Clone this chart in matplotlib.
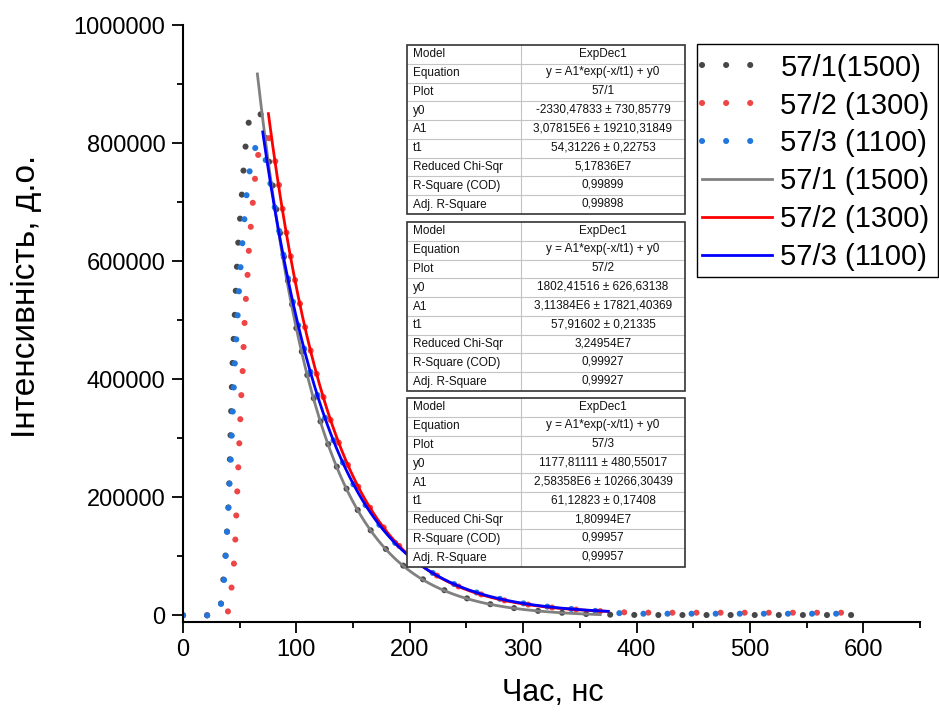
import matplotlib
matplotlib.use("Agg")
import matplotlib.pyplot as plt
import numpy as np
from matplotlib.ticker import MultipleLocator, StrMethodFormatter

plt.rcParams['font.family'] = ['Liberation Sans', 'DejaVu Sans']

# ---------------- data ----------------
labels_data = ['57/1(1500)', '57/2 (1300)', '57/3 (1100)']
labels_fit = ['57/1 (1500)', '57/2 (1300)', '57/3 (1100)']

x1 = [0, 32, 34.1, 37.9, 40.3, 41.5, 42.6, 43.9, 45.0, 45.9, 46.8, 47.9, 49.1, 50.9, 52.4, 53.8,
      55.9, 59.1, 64, 68, 73.2, 76.2, 79.7, 82.7, 86.2, 90, 100, 110, 120, 130, 140, 150,
      160, 170, 180, 190, 200, 220, 240, 260, 280, 300, 320, 340, 360, 380, 400, 420,
      440, 460, 480, 500, 520, 540, 560, 580, 590]
y1 = [0, 0, 29000, 111000, 192000, 275000, 358000, 440000, 481000, 522000, 563000, 604000, 645000, 686000, 727000, 768000,
      809000, 850000, 858000, 853000, 805000, 765000, 722000, 683000, 640000, 595000, 486000, 404000, 336000, 279000, 231000, 192000,
      159000, 132000, 110000, 91000, 75000, 51000, 35000, 23000, 15500, 10000, 6200, 3600, 1800, 900, 600, 500,
      500, 500, 500, 500, 500, 500, 500, 500, 500]

x2 = [0, 39, 39.7, 42.9, 45.0, 46.2, 47.0, 47.9, 48.8, 49.7, 50.6, 51.5, 52.7, 53.5, 54.4, 55.6,
      57.1, 58.2, 60.0, 61.8, 63.8, 66.8, 71, 75, 78, 81.2, 85, 90, 100, 110, 120, 130,
      140, 150, 160, 170, 180, 190, 200, 220, 240, 260, 280, 300, 320, 340, 360, 380,
      400, 420, 440, 460, 480, 500, 520, 540, 560, 580, 590]
y2 = [0, 0, 7300, 48000, 89000, 130000, 171000, 212000, 253000, 294000, 335000, 376000, 417500, 459000, 500500, 541000,
      582000, 623000, 664000, 705000, 746000, 787000, 806000, 812000, 800000, 772000, 725000, 662000, 556000, 468000, 394000, 332000,
      279000, 235000, 198000, 167000, 141000, 119000, 100000, 71500, 51000, 37000, 26500, 19300, 14200, 10600, 8000, 5500,
      4600, 4400, 4400, 4400, 4400, 4400, 4400, 4400, 4400, 4400, 4400]

x3 = [0, 32.3, 34.1, 36.8, 37.9, 39.1, 40.3, 41.2, 42.4, 43.2, 44.1, 45.0, 45.9, 47.4, 48.5, 49.7,
      51.2, 52.9, 54.7, 56.7, 59.7, 63, 66.5, 70, 74.4, 78.3, 83.2, 87.1, 90, 100, 110, 120,
      130, 140, 150, 160, 170, 180, 190, 200, 220, 240, 260, 280, 300, 320, 340, 360,
      380, 400, 420, 440, 460, 480, 500, 520, 540, 560, 580, 590]
y3 = [0, 0, 27600, 68300, 109500, 150000, 191500, 232000, 273000, 314000, 355000, 396000, 437000, 479000, 520000, 561500,
      602000, 643000, 684000, 725000, 765000, 790000, 800000, 790000, 762000, 718000, 668000, 628000, 594000, 504000, 428000, 364000,
      309000, 263000, 223000, 190000, 161000, 137000, 117000, 99000, 72000, 52000, 38000, 27700, 20300, 15000, 11100, 8300,
      4000, 2700, 2700, 2700, 2700, 2700, 2700, 2700, 2700, 2700, 2700, 2700]

# fit parameters (from the tables on the chart) and drawn fit ranges
fit_y0 = [-2330.47833, 1802.41516, 1177.81111]
fit_A1 = [3.07815e6, 3.11384e6, 2.58358e6]
fit_t1 = [54.31226, 57.91602, 61.12823]
fit_start = [65.6, 75.3, 70.3]
fit_end = [368, 375, 375]

# table texts
row_names = ["Model", "Equation", "Plot", "y0", "A1", "t1",
             "Reduced Chi-Sqr", "R-Square (COD)", "Adj. R-Square"]
table_vals = [
    ["ExpDec1", "y = A1*exp(-x/t1) + y0", "57/1", "-2330,47833 ± 730,85779",
     "3,07815E6 ± 19210,31849", "54,31226 ± 0,22753", "5,17836E7", "0,99899", "0,99898"],
    ["ExpDec1", "y = A1*exp(-x/t1) + y0", "57/2", "1802,41516 ± 626,63138",
     "3,11384E6 ± 17821,40369", "57,91602 ± 0,21335", "3,24954E7", "0,99927", "0,99927"],
    ["ExpDec1", "y = A1*exp(-x/t1) + y0", "57/3", "1177,81111 ± 480,55017",
     "2,58358E6 ± 10266,30439", "61,12823 ± 0,17408", "1,80994E7", "0,99957", "0,99957"],
]

data_colors = ['#474747', '#ee4646', '#2277dd']
fit_colors = ['#808080', '#ff0000', '#0000ff']

# ---------------- figure ----------------
W, H = 939, 712
fig = plt.figure(figsize=(W / 100, H / 100), dpi=100)
ax = fig.add_axes([183 / W, (H - 621.8) / H, 737 / W, 596.5 / H])

dot_lw = 4.4
dot_style = (0, (0.01, 17.3 / 4.4))
for xs, ys, c, lab in zip([x1, x2, x3], [y1, y2, y3], data_colors, labels_data):
    ax.plot(xs, ys, color=c, lw=dot_lw, linestyle=dot_style,
            dash_capstyle='round', label=lab, zorder=2)

for A, t, y0, xs0, xs1, c, lab in zip(fit_A1, fit_t1, fit_y0, fit_start, fit_end,
                                      fit_colors, labels_fit):
    xx = np.linspace(xs0, xs1, 400)
    ax.plot(xx, A * np.exp(-xx / t) + y0, color=c, lw=2.0, label=lab, zorder=3)

ax.set_xlim(0, 650)
ax.set_ylim(-11000, 1000000)
ax.xaxis.set_major_locator(MultipleLocator(100))
ax.xaxis.set_minor_locator(MultipleLocator(50))
ax.yaxis.set_major_locator(MultipleLocator(200000))
ax.yaxis.set_minor_locator(MultipleLocator(100000))
ax.yaxis.set_major_formatter(StrMethodFormatter('{x:.0f}'))
ax.xaxis.set_major_formatter(StrMethodFormatter('{x:.0f}'))
for s in ['top', 'right']:
    ax.spines[s].set_visible(False)
for s in ['left', 'bottom']:
    ax.spines[s].set_linewidth(1.5)
ax.tick_params(which='major', direction='out', length=7.7, width=1.3, labelsize=17, pad=5)
ax.tick_params(which='minor', direction='out', length=4.3, width=1.3)

fig.text(27 / W, 1 - 296 / H, 'Інтенсивність, д.о.', rotation=90,
         ha='center', va='center', fontsize=24)
fig.text(553 / W, 1 - 693 / H, 'Час, нс', ha='center', va='center', fontsize=22)

# legend (frame drawn separately so that its box matches the reference)
leg = ax.legend(loc='upper left', bbox_to_anchor=(692 / W, 1 - 44 / H),
                bbox_transform=fig.transFigure, fontsize=21, frameon=False,
                borderaxespad=0, borderpad=0.33, handlelength=2.4,
                handletextpad=0.3, labelspacing=0.34)
leg.set_zorder(6)
ax.add_patch(plt.Rectangle((697 / W, 1 - 277 / H), 241 / W, 233 / H,
                           transform=fig.transFigure, facecolor='white',
                           edgecolor='black', lw=1.0, zorder=5, clip_on=False))

# ---------------- tables ----------------
tab_tops = [45, 222, 398]
tab_h = 169
tab_left, tab_w = 407, 278
col_split = 0.41
for top, vals in zip(tab_tops, table_vals):
    tax = fig.add_axes([tab_left / W, 1 - (top + tab_h) / H, tab_w / W, tab_h / H])
    tax.set_xlim(0, 1)
    tax.set_ylim(0, 1)
    tax.axis('off')
    tax.add_patch(plt.Rectangle((0, 0), 1, 1, facecolor='white', edgecolor='none', zorder=0))
    n = len(row_names)
    for i in range(1, n):
        tax.axhline(i / n, color='#c4c4c4', lw=0.8, zorder=1)
    tax.plot([col_split, col_split], [0, 1], color='#c4c4c4', lw=0.8, zorder=1)
    tax.add_patch(plt.Rectangle((0, 0), 1, 1, facecolor='none', edgecolor='#333333',
                                lw=1.2, zorder=2, clip_on=False))
    for i, (rn, v) in enumerate(zip(row_names, vals)):
        yc = 1 - (i + 0.5) / n
        tax.text(0.02, yc, rn, ha='left', va='center', fontsize=8.5, color='#111111')
        tax.text((col_split + 1) / 2, yc + 0.005, v, ha='center', va='center',
                 fontsize=8.5, color='#111111')

fig.savefig('out.png', dpi=100)
